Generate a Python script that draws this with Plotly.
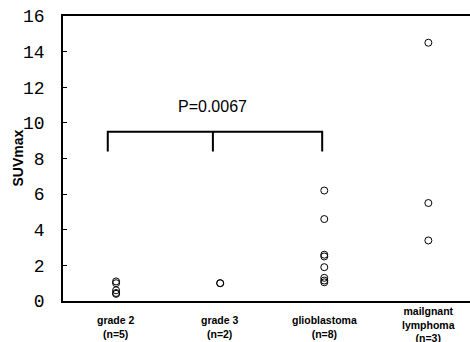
import plotly.graph_objects as go

categories = ["grade 2<br>(n=5)", "grade 3<br>(n=2)", "glioblastoma<br>(n=8)", "mailgnant<br>lymphoma<br>(n=3)"]
grade2 = [1.1, 1.0, 0.6, 0.45, 0.4]
grade3 = [1.0, 1.0]
glioblastoma = [6.2, 4.6, 2.6, 2.5, 1.9, 1.3, 1.15, 1.05]
lymphoma = [14.5, 5.5, 3.4]
series = [grade2, grade3, glioblastoma, lymphoma]

y_ticks = [0, 2, 4, 6, 8, 10, 12, 14, 16]
bracket_x = [-0.08, -0.08, 0.93, 0.93, 0.93, 1.98, 1.98]
bracket_y = [8.4, 9.5, 9.5, 8.4, 9.5, 9.5, 8.4]
p_text = "P=0.0067"
p_pos = (0.93, 10.9)

fig = go.Figure()
for i, vals in enumerate(series):
    fig.add_trace(go.Scatter(
        x=[i] * len(vals), y=vals, mode="markers",
        marker=dict(symbol="circle-open", size=7, color="black", line=dict(width=1, color="black")),
        showlegend=False, hoverinfo="skip"))

fig.add_trace(go.Scatter(x=bracket_x, y=bracket_y, mode="lines",
                         line=dict(color="black", width=2), showlegend=False, hoverinfo="skip"))

fig.add_annotation(x=p_pos[0], y=p_pos[1], text=p_text, showarrow=False,
                   font=dict(family="Liberation Sans", size=16, color="black"))

for i, c in enumerate(categories):
    nlines = c.count("<br>") + 1
    fig.add_annotation(x=i, y=0, xref="x", yref="paper",
                       text="<b>" + c.replace("<br>", "</b><br><b>") + "</b>",
                       showarrow=False, yanchor="bottom", yshift=-41 if nlines < 3 else -45,
                       font=dict(family="Liberation Sans", size=10.5, color="black"))

fig.add_annotation(x=0, y=0.5, xref="paper", yref="paper", text="<b>SUVmax</b>",
                   textangle=-90, showarrow=False, xshift=-46, xanchor="center",
                   font=dict(family="Liberation Sans", size=14, color="black"))

fig.update_layout(
    width=470, height=342,
    margin=dict(l=63, r=0, t=16, b=41, autoexpand=False),
    paper_bgcolor="white", plot_bgcolor="white",
    xaxis=dict(range=[-0.51, 3.40], showgrid=False, zeroline=False, showticklabels=False,
               ticks="", showline=True, mirror=True, linecolor="black", linewidth=1.5,
               automargin=False),
    yaxis=dict(range=[0, 16], tickvals=y_ticks, ticktext=[str(v) for v in y_ticks],
               showgrid=False, zeroline=False, showline=True, linecolor="black", linewidth=1.5,
               ticks="inside", ticklen=4, tickwidth=1, tickcolor="black",
               ticklabelstandoff=13, automargin=False,
               tickfont=dict(family="Liberation Mono", size=18, color="black")),
)

fig.write_html("out.html", config={"displayModeBar": False},
               post_script="document.body.style.margin='0';document.body.style.overflow='hidden';")
